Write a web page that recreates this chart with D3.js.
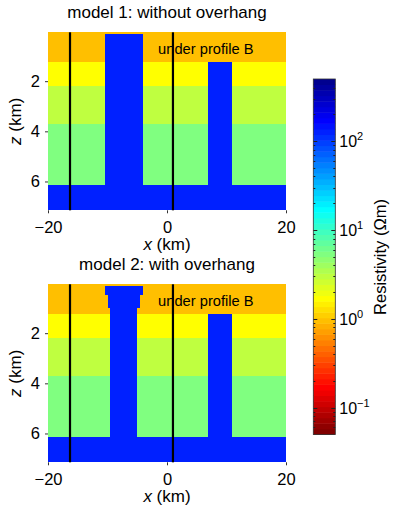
<!DOCTYPE html>
<html>
<head>
<meta charset="utf-8">
<script src="https://cdn.jsdelivr.net/npm/d3@7"></script>
<style>
  body { margin: 0; background: #fff; }
  svg text { font-family: "Liberation Sans", Arial, sans-serif; fill: #000; }
</style>
</head>
<body>
<div id="chart"></div>
<script>
// model geometry (km) and resistivities (ohm m)
var layerBounds = [0.05, 1.23, 2.2, 3.69, 6.16, 7.15];
var layerRho = [1, 1.7, 3, 5.3, 130];
var bodyRho = 130;
// bodies: [x0, x1, z0, z1]
var bodies1 = [[-10.5, -4.0, 0.1, 6.16], [6.95, 11.0, 1.23, 6.16]];
var bodies2 = [[-10.5, -4.0, 0.1, 0.49], [-10.0, -4.5, 0.49, 0.98], [-9.5, -5.0, 0.98, 6.16], [6.95, 11.0, 1.23, 6.16]];
var profileX = [-16.3, 1.0];
var titles = ['model 1: without overhang', 'model 2: with overhang'];
var xTicks = [-20, 0, 20];
var zTicks = [2, 4, 6];
var cbarTicks = [0.1, 1, 10, 100];
var cbarDomain = [0.05, 500];
var annotation = {text: 'under profile B', x: -1.5, z: 0.93};

var chart_width = 397;
var chart_height = 513;

var svg = d3.select('#chart')
    .append('svg')
    .attr('width', chart_width)
    .attr('height', chart_height);

// MATLAB jet(64), flipped so low resistivity is red
function jet64() {
    var n = 64, m = 16, u = [];
    for (var k = 1; k <= m; k++) u.push(k / m);
    for (k = 0; k < 15; k++) u.push(1);
    for (k = m; k >= 1; k--) u.push(k / m);
    var cols = [];
    for (var i = 1; i <= n; i++) {
        var g = u[i - 8 - 1], r = u[i - 24 - 1], b = u[i + 8 - 1];
        cols.push(d3.rgb(255 * (r || 0), 255 * (g || 0), 255 * (b || 0)));
    }
    return cols.reverse();
}
var cmap = jet64();
var logLo = Math.log10(cbarDomain[0]), logHi = Math.log10(cbarDomain[1]);
function rhoColor(rho) {
    var t = (Math.log10(rho) - logLo) / (logHi - logLo);
    var idx = Math.max(0, Math.min(63, Math.floor(t * 64 + 1e-9)));
    return cmap[idx];
}

var x_scale = d3.scaleLinear().domain([-20, 20]).range([48, 286]);

function drawPanel(top, bodies, title) {
    var z_scale = d3.scaleLinear().domain([layerBounds[0], layerBounds[layerBounds.length - 1]]).range([top, top + 178]);
    var g = svg.append('g');

    // layers
    g.selectAll('rect.layer')
        .data(layerRho)
        .enter()
        .append('rect')
        .attr('class', 'layer')
        .attr('x', x_scale(-20))
        .attr('width', x_scale(20) - x_scale(-20))
        .attr('y', function (d, i) { return z_scale(layerBounds[i]); })
        .attr('height', function (d, i) { return z_scale(layerBounds[i + 1]) - z_scale(layerBounds[i]); })
        .attr('fill', function (d) { return rhoColor(d); })
        .attr('shape-rendering', 'crispEdges');

    // conductive bodies
    g.selectAll('rect.body')
        .data(bodies)
        .enter()
        .append('rect')
        .attr('class', 'body')
        .attr('x', function (d) { return x_scale(d[0]); })
        .attr('width', function (d) { return x_scale(d[1]) - x_scale(d[0]); })
        .attr('y', function (d) { return z_scale(d[2]); })
        .attr('height', function (d) { return z_scale(d[3]) - z_scale(d[2]); })
        .attr('fill', rhoColor(bodyRho))
        .attr('shape-rendering', 'crispEdges');

    // profile lines
    g.selectAll('line.profile')
        .data(profileX)
        .enter()
        .append('line')
        .attr('x1', function (d) { return x_scale(d); })
        .attr('x2', function (d) { return x_scale(d); })
        .attr('y1', z_scale.range()[0])
        .attr('y2', z_scale.range()[1])
        .attr('stroke', '#000')
        .attr('stroke-width', 2.2);

    g.append('text')
        .attr('x', x_scale(annotation.x))
        .attr('y', z_scale(annotation.z))
        .style('font-size', '14.7px')
        .text(annotation.text);

    // axes
    var xAxis = d3.axisBottom(x_scale).tickValues(xTicks).tickSize(3).tickPadding(8)
        .tickFormat(function (d) { return d < 0 ? '\u2212' + Math.abs(d) : d; });
    var gx = g.append('g').attr('transform', 'translate(0,' + z_scale.range()[1] + ')').call(xAxis);
    var zAxis = d3.axisLeft(z_scale).tickValues(zTicks).tickSize(3).tickPadding(5);
    var gz = g.append('g').attr('transform', 'translate(' + x_scale(-20) + ',0)').call(zAxis);
    [gx, gz].forEach(function (a) {
        a.select('.domain').remove();
        a.selectAll('.tick line').attr('stroke', '#333');
        a.selectAll('.tick text').style('font-size', '16.5px').attr('fill', '#000');
    });

    g.append('text')
        .attr('x', (x_scale(-20) + x_scale(20)) / 2)
        .attr('y', top - 14)
        .attr('text-anchor', 'middle')
        .style('font-size', '17px')
        .text(title);

    var xl = g.append('text')
        .attr('x', (x_scale(-20) + x_scale(20)) / 2)
        .attr('y', z_scale.range()[1] + 40)
        .attr('text-anchor', 'middle')
        .style('font-size', '17px');
    xl.append('tspan').style('font-style', 'italic').text('x');
    xl.append('tspan').text(' (km)');

    var zl = g.append('text')
        .attr('transform', 'translate(21,' + (top + 89) + ') rotate(-90)')
        .attr('text-anchor', 'middle')
        .style('font-size', '17px');
    zl.append('tspan').style('font-style', 'italic').text('z');
    zl.append('tspan').text(' (km)');
}

drawPanel(32.3, bodies1, titles[0]);
drawPanel(284.3, bodies2, titles[1]);

// colorbar
var cbX = 313.3, cbW = 22;
var c_scale = d3.scaleLog().domain(cbarDomain).range([434.4, 79]);
var bands = d3.range(64).map(function (i) {
    return [Math.pow(10, logLo + i * (logHi - logLo) / 64), Math.pow(10, logLo + (i + 1) * (logHi - logLo) / 64)];
});
svg.selectAll('rect.band')
    .data(bands)
    .enter()
    .append('rect')
    .attr('x', cbX)
    .attr('width', cbW)
    .attr('y', function (d) { return c_scale(d[1]); })
    .attr('height', function (d) { return c_scale(d[0]) - c_scale(d[1]) + 0.5; })
    .attr('fill', function (d, i) { return cmap[i]; });

var minor = [];
for (var e = -2; e <= 2; e++) {
    for (var k = 2; k <= 9; k++) {
        var v = k * Math.pow(10, e);
        if (v > cbarDomain[0] && v < cbarDomain[1]) minor.push(v);
    }
}
var cg = svg.append('g');
[[minor, 2], [cbarTicks, 4]].forEach(function (set) {
    cg.selectAll(null)
        .data(set[0])
        .enter()
        .append('path')
        .attr('d', function (d) {
            var y = Math.round(c_scale(d)) + 0.5;
            return 'M' + cbX + ',' + y + 'h' + set[1] + 'M' + (cbX + cbW) + ',' + y + 'h' + (-set[1]);
        })
        .attr('stroke', '#222')
        .attr('stroke-width', 1);
});
svg.append('rect')
    .attr('x', cbX)
    .attr('y', c_scale.range()[1])
    .attr('width', cbW)
    .attr('height', c_scale.range()[0] - c_scale.range()[1])
    .attr('fill', 'none')
    .attr('stroke', '#333')
    .attr('stroke-width', 0.8);

var lbl = svg.selectAll('text.cbl')
    .data(cbarTicks)
    .enter()
    .append('text')
    .attr('class', 'cbl')
    .attr('x', cbX + cbW + 4)
    .attr('y', function (d) { return c_scale(d) + 6; })
    .style('font-size', '16px');
lbl.append('tspan').text('10');
lbl.append('tspan')
    .attr('dy', -7)
    .style('font-size', '11px')
    .text(function (d) { return Math.round(Math.log10(d)) < 0 ? '\u2212' + Math.abs(Math.round(Math.log10(d))) : Math.round(Math.log10(d)); });

svg.append('text')
    .attr('transform', 'translate(386,257) rotate(-90)')
    .attr('text-anchor', 'middle')
    .style('font-size', '16.5px')
    .text('Resistivity (\u03A9m)');
</script>
</body>
</html>
